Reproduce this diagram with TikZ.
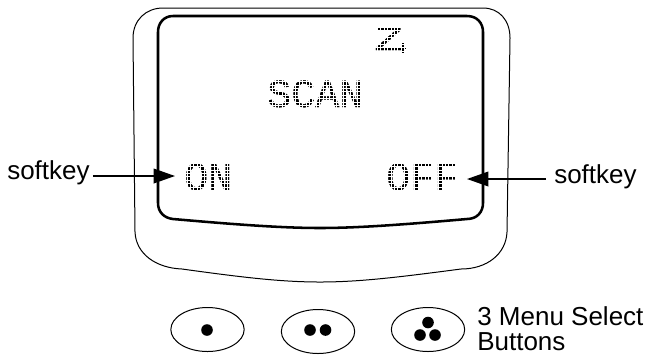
\documentclass[tikz,border=0pt]{standalone}
\usepackage{fontspec}
\setmainfont{Liberation Sans}
\newfontfamily\lcdfont[FakeBold=0.7]{Liberation Mono}
\newfontfamily\lcdwide[FakeBold=0.7,FakeStretch=1.45]{Liberation Mono}
\usetikzlibrary{positioning,arrows.meta,shapes.geometric}
\tikzset{
  caption/.style={inner sep=0pt,font=\fontsize{19.5}{18.75}\selectfont},
  lcdtext/.style={inner sep=0pt,anchor=base west,font=\lcdfont\fontsize{30}{30}\selectfont,text=black},
  lcdgrid/.style={white,line width=0.5pt,step=2.55pt},
  keyarrow/.style={line width=1.1pt,-{Triangle[length=16pt,width=11pt]}},
  button/.style={draw,ellipse,line width=0.75pt,minimum width=55pt,minimum height=33pt,inner sep=0pt},
  pip/.style={fill=black,circle,inner sep=0pt,minimum size=8.7pt},
}
\begin{document}
\begin{tikzpicture}[x=0.75pt,y=0.75pt,yscale=-1,xscale=1]
\useasboundingbox (0,0) rectangle (648,355);

%Shape: outer case
\draw [line width=0.75pt] (163,8) -- (483,8) .. controls (499,8) and (510,20) .. (510,38) -- (507,232) .. controls (506,254) and (487,269) .. (461,269) .. controls (400,277) and (360,282) .. (320,282) .. controls (280,282) and (240,277) .. (182,269) .. controls (156,268) and (136,254) .. (135,232) -- (133,38) .. controls (133,20) and (146,8) .. (163,8) -- cycle ;

%Shape: screen
\draw [line width=1.9pt] (173,16) -- (467,16) .. controls (477,16) and (483,23) .. (483,32) -- (483,203) .. controls (483,212) and (477,219) .. (467,219) .. controls (410,224) and (360,228) .. (320,228) .. controls (280,228) and (230,224) .. (173,219) .. controls (164,218) and (158,212) .. (158,203) -- (158,32) .. controls (158,23) and (164,16) .. (173,16) -- cycle ;

%Screen texts
\node [lcdtext,font=\lcdwide\fontsize{25}{25}\selectfont] (zed) at (374,50) {Z};
\node [lcdtext] (scan) at (267,107) {SCAN};
\node [lcdtext] (on) at (184,190) {ON};
\node [lcdtext] (off) at (386,190) {OFF};

%Tick on the Z
\draw [line width=2pt] (403,43) -- (403,53) (395,48) -- (406,48) ;

%White grid that breaks the screen texts into dots
\draw [lcdgrid] (262,76) grid (368,110);
\draw [lcdgrid] (180,160) grid (236,193);
\draw [lcdgrid] (384,160) grid (462,193);
\draw [lcdgrid] (374,25) grid (408,56);

%Softkey labels
\node [caption,anchor=base west] (keyleft) at (7,179) {softkey};
\node [caption,anchor=base west] (keyright) at (554,183) {softkey};
\coordinate (tipleft) at (175,176);
\coordinate (tipright) at (467,179);

%Straight Lines
\draw [keyarrow] (keyleft.east |- tipleft) ++(3,0) -- (tipleft) ;
\draw [keyarrow] (keyright.west |- tipright) ++(-8,0) -- (tipright) ;

%Buttons
\node [button] (btnone) at (207.5,329.5) {};
\node [button] (btntwo) at (318,331.5) {};
\node [button] (btnthree) at (428,329.5) {};

\node [pip] (pipa) at (207,330) {};
\node [pip] (pipb) at (310,330) {};
\node [pip] (pipc) at (325.5,330) {};
\node [pip] (pipd) at (428,322.5) {};
\node [pip] (pipe) at (420,335) {};
\node [pip] (pipf) at (435,335) {};

\node [caption,anchor=base west] (menulabel) at (477,325) {3 Menu Select};
\node [caption,anchor=base west] (menulabeltwo) at (477,350) {Buttons};
\end{tikzpicture}
\end{document}
